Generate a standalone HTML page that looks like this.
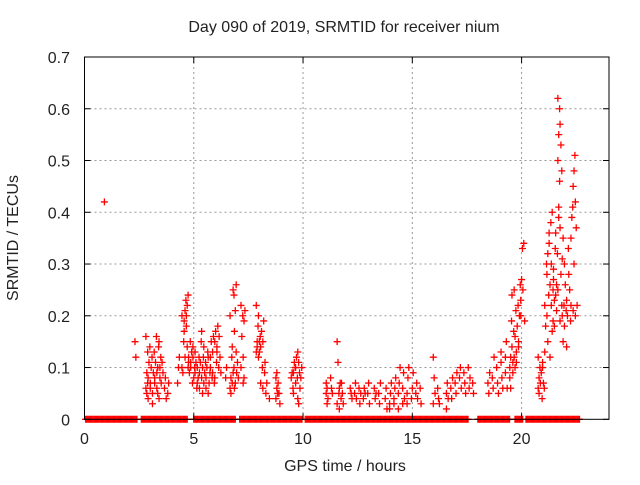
<!DOCTYPE html>
<html><head><meta charset="utf-8"><style>
body{margin:0;background:#fff}
svg text{font-family:"Liberation Sans",sans-serif;fill:#222}
</style></head><body>
<svg id="chart" width="640" height="480" viewBox="0 0 640 480" xmlns="http://www.w3.org/2000/svg">
<rect x="0" y="0" width="640" height="480" fill="#fff"/>
<text x="344" y="32" font-size="16" text-anchor="middle">Day 090 of 2019, SRMTID for receiver nium</text>
<text x="345" y="471" font-size="16" text-anchor="middle">GPS time / hours</text>
<text x="18" y="238" font-size="16" text-anchor="middle" transform="rotate(-90 18 238)">SRMTID / TECUs</text>
<g id="grid"></g><g id="marks"></g><g id="axes"></g>
</svg>
<script>
const xTicks=[0,5,10,15,20];
const yTicks=[0,0.1,0.2,0.3,0.4,0.5,0.6,0.7];
const yTickLabels=["0","0.1","0.2","0.3","0.4","0.5","0.6","0.7"];
const sampleTimes=[0.95,2.35,2.85,2.95,3.05,3.15,3.25,3.35,3.45,3.55,3.7,3.85,4.3,4.5,4.6,4.7,4.8,4.9,5.0,5.1,5.2,5.3,5.4,5.5,5.6,5.7,5.8,5.9,6.0,6.1,6.2,6.5,6.7,6.8,6.9,7.0,7.2,7.3,7.9,8.0,8.1,8.2,8.3,8.5,8.8,8.9,9.5,9.6,9.7,9.8,9.9,11.1,11.3,11.6,11.7,11.8,12.2,12.4,12.6,12.8,13.0,13.3,13.5,13.8,14.0,14.2,14.4,14.6,14.8,15.0,15.2,15.4,16.0,16.2,16.6,16.8,17.0,17.2,17.4,17.6,17.8,18.5,18.7,18.9,19.1,19.3,19.5,19.6,19.7,19.8,19.9,20.0,20.1,20.8,20.9,21.0,21.1,21.2,21.3,21.4,21.5,21.6,21.7,21.8,21.9,22.0,22.1,22.2,22.3,22.4,22.5];
const sampleValues=[[.42],[.15,.12],[.06,.09,.13,.16,.05,.07],[.08,.11,.14,.04],[.06,.1,.12,.07],[.05,.09,.13,.03],[.07,.11,.16,.08],[.06,.1,.14,.09,.05],[.04,.08,.12,.15,.1],[.07,.11,.09],[.06,.08,.04],[.05,.07],[.07,.1,.12],[.1,.09,.15,.2],[.19,.21,.23,.17,.12],[.2,.22,.24,.18,.14,.1],[.12,.09,.15,.11],[.1,.13,.07,.11],[.12,.08,.1,.14],[.09,.11,.06,.13],[.1,.08,.12,.07],[.09,.11,.15,.06],[.17,.1,.12,.08,.05],[.14,.09,.11,.07],[.08,.1,.13,.06],[.12,.07,.09,.05],[.1,.15,.08,.12],[.13,.16,.07,.09],[.15,.17,.11,.08],[.14,.18,.1,.13],[.16,.12,.09],[.08,.1],[.06,.08,.12,.2,.05],[.07,.09,.1,.14,.25,.24],[.06,.07,.13,.17,.21,.26],[.09,.11,.08],[.1,.16,.2,.22],[.12,.19,.21,.07,.08],[.13,.15,.18,.22,.14],[.12,.15,.16,.2,.13],[.14,.17,.1,.07],[.15,.19,.09,.06],[.11,.05,.07],[.04],[.08,.06,.05,.04,.09],[.07,.05,.03],[.08,.09,.06],[.09,.11,.1,.05],[.1,.12,.08,.07],[.13,.11,.09,.04,.03],[.06,.08,.1],[.07,.06,.04,.05,.03],[.08,.06,.05],[.15,.11,.05,.03],[.06,.07,.04,.02],[.07,.05,.03],[.06,.05,.04],[.05,.07,.04],[.06,.03,.05],[.04,.06,.05],[.05,.07,.03],[.06,.04,.05],[.05,.03,.07],[.04,.06,.02],[.03,.05,.07,.02],[.04,.06,.08,.03],[.05,.07,.1,.02],[.06,.09,.04,.03],[.05,.08,.1,.03],[.04,.06,.09],[.05,.07,.04],[.06,.03],[.12,.08,.05,.03],[.06,.04,.03],[.05,.07,.04,.02],[.06,.04,.08],[.07,.05,.09],[.08,.1,.06],[.09,.07,.05],[.1,.06,.08],[.07,.05],[.07,.05,.09],[.08,.06,.12],[.1,.07,.05],[.11,.08,.06,.13],[.09,.15,.06,.12],[.1,.12,.19,.08,.06],[.14,.11,.17,.24,.09],[.12,.16,.21,.25,.1],[.13,.18,.22,.11],[.15,.2,.26,.14],[.23,.27,.33,.2],[.25,.34,.19],[.06,.08,.1,.12,.05],[.07,.09,.04],[.1,.07,.06,.11],[.13,.18,.3,.22],[.28,.32,.24,.2,.15],[.36,.26,.38,.34,.12],[.3,.4,.25,.22,.17,.19],[.27,.23,.33,.29,.18],[.24,.26,.32,.36,.21],[.25,.39,.46,.5,.55,.6,.62,.41],[.57,.53,.48,.37,.28,.22,.19],[.31,.35,.22,.2,.15],[.3,.26,.21,.18],[.14,.2,.33,.23],[.28,.25,.19],[.35,.39,.41,.22],[.45,.48,.51,.21,.3],[.42,.37,.22,.2]];
const zeroRangeStarts=[0.05,2.6,5.0,7.1,10.1,18.0,19.7,20.2];
const zeroRangeEnds=[2.4,4.7,6.9,10.0,17.6,19.5,20.1,22.7];

const X0=84.5,X1=609,Y0=419.3,Y1=57;
const xs=t=>X0+(t/24)*(X1-X0);
const ys=v=>Y0-(v/0.7)*(Y0-Y1);
const NS="http://www.w3.org/2000/svg";
function mk(tag,attrs,parent){const e=document.createElementNS(NS,tag);for(const k in attrs)e.setAttribute(k,attrs[k]);parent.appendChild(e);return e;}
const grid=document.getElementById('grid'),marks=document.getElementById('marks'),axes=document.getElementById('axes');
xTicks.forEach(t=>{
  const x=xs(t);
  if(t>0){const g=mk('line',{x1:x,x2:x,y1:Y1,y2:Y0,stroke:'#999','stroke-dasharray':'2,3'},grid);
  
  }
  mk('line',{x1:x,x2:x,y1:Y0,y2:Y0-6,stroke:'#000'},axes);
  mk('line',{x1:x,x2:x,y1:Y1,y2:Y1+6,stroke:'#000'},axes);
  const l=mk('text',{x:x,y:444,'font-size':16,'text-anchor':'middle'},axes);l.textContent=t;
  
  
});
yTicks.forEach((v,i)=>{
  const y=ys(v);
  if(v>0&&v<0.7){const g=mk('line',{x1:X0,x2:X1,y1:y,y2:y,stroke:'#999','stroke-dasharray':'2,3'},grid);
  
  }
  mk('line',{x1:X0,x2:X0+6,y1:y,y2:y,stroke:'#000'},axes);
  mk('line',{x1:X1,x2:X1-6,y1:y,y2:y,stroke:'#000'},axes);
  const l=mk('text',{x:70,y:y+6,'font-size':16,'text-anchor':'end'},axes);l.textContent=yTickLabels[i];
  
  
});
const frame=mk('rect',{x:X0,y:Y1,width:X1-X0,height:Y0-Y1,fill:'none',stroke:'#000'},axes);


function plus(t,v){
  const x=xs(t),y=ys(v);
  const p=mk('path',{d:`M${x-3.5} ${y}H${x+3.5}M${x} ${y-3.5}V${y+3.5}`,stroke:'#f00','stroke-width':1.3,fill:'none'},marks);
  
  
}
zeroRangeStarts.forEach((s,i)=>{for(let t=s;t<=zeroRangeEnds[i];t+=0.05)plus(t,0);});
sampleTimes.forEach((t,i)=>{const vals=sampleValues[i];vals.forEach((v,j)=>plus(t+(j%3-1)*0.04,v));});
</script>
</body></html>
